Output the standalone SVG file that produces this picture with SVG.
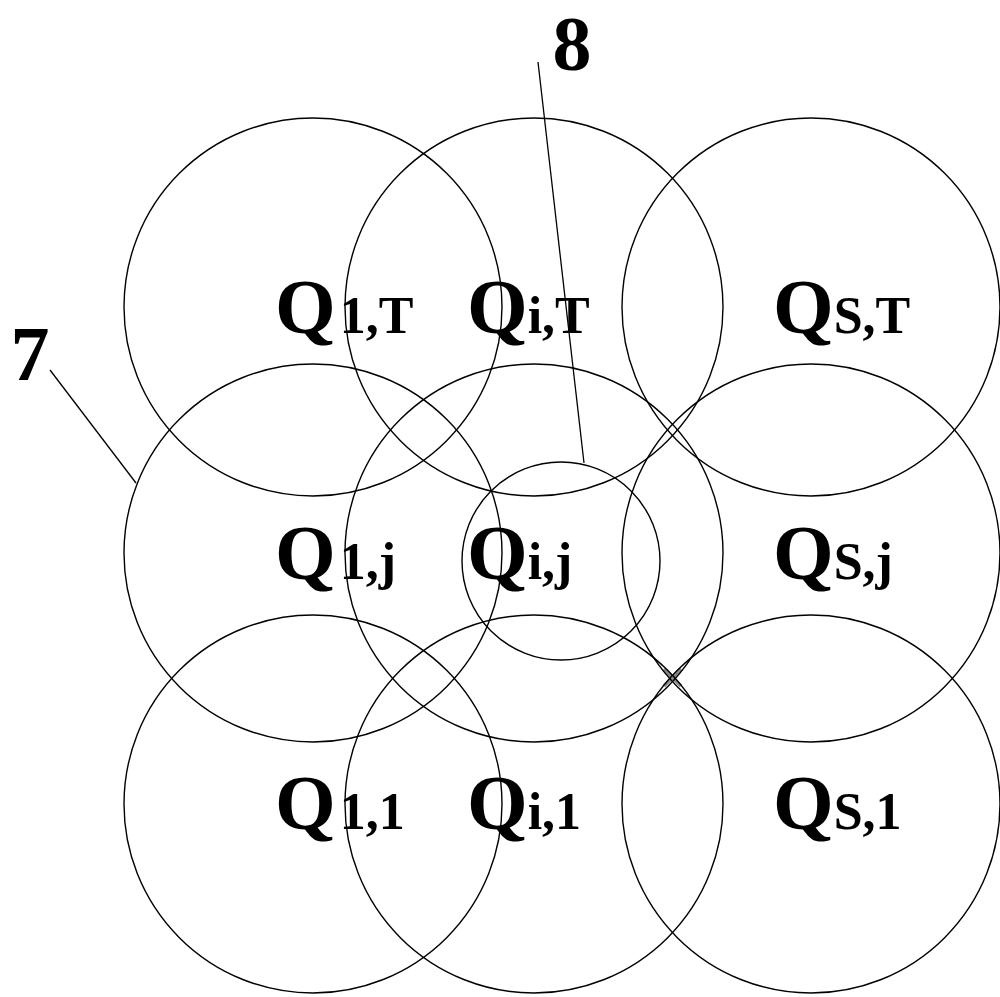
<svg xmlns="http://www.w3.org/2000/svg" width="1000" height="997" viewBox="0 0 1000 997">
<style>
.c{fill:none;stroke:#000;stroke-width:1.4}
.l{fill:none;stroke:#000;stroke-width:1.3}
.q{font-family:"Liberation Serif","Times New Roman",serif;font-weight:bold;fill:#000}
.big{font-size:78px}
.sub{font-size:52px}
.num{font-family:"Liberation Serif","Times New Roman",serif;font-weight:bold;font-size:78px;fill:#000}
</style>
<rect width="1000" height="997" fill="#fff"/>
<g id="mark">
<path d="M664 669 L681 686 M681 669 L664 686" stroke="#888" stroke-width="3.5" fill="none"/>
</g>
<g id="circles">
<g id="n-1T"><circle class="c" cx="313" cy="307" r="189"/></g>
<g id="n-iT"><circle class="c" cx="534" cy="307" r="189"/></g>
<g id="n-ST"><circle class="c" cx="811" cy="307" r="189"/></g>
<g id="n-1j"><circle class="c" cx="313" cy="553" r="189"/></g>
<g id="n-ij"><circle class="c" cx="534" cy="553" r="189"/></g>
<g id="n-Sj"><circle class="c" cx="811" cy="553" r="189"/></g>
<g id="n-11"><circle class="c" cx="313" cy="804" r="189"/></g>
<g id="n-i1"><circle class="c" cx="534" cy="804" r="189"/></g>
<g id="n-S1"><circle class="c" cx="811" cy="804" r="189"/></g>
<g id="n-small"><circle class="c" cx="561" cy="561" r="99"/></g>
</g>
<g id="connectors">
<line class="l" x1="538" y1="62" x2="584" y2="463"/>
<line class="l" x1="50" y1="370" x2="136" y2="483"/>
</g>
<g id="labels">
<text class="q" x="275" y="333"><tspan class="big">Q</tspan><tspan class="sub" dx="4">1,T</tspan></text>
<text class="q" x="467" y="333"><tspan class="big">Q</tspan><tspan class="sub">i,T</tspan></text>
<text class="q" x="773" y="333"><tspan class="big">Q</tspan><tspan class="sub">S,T</tspan></text>
<text class="q" x="275" y="579"><tspan class="big">Q</tspan><tspan class="sub" dx="4">1,j</tspan></text>
<text class="q" x="467" y="579"><tspan class="big">Q</tspan><tspan class="sub">i,j</tspan></text>
<text class="q" x="773" y="579"><tspan class="big">Q</tspan><tspan class="sub">S,j</tspan></text>
<text class="q" x="275" y="829"><tspan class="big">Q</tspan><tspan class="sub" dx="4">1,1</tspan></text>
<text class="q" x="467" y="829"><tspan class="big">Q</tspan><tspan class="sub">i,1</tspan></text>
<text class="q" x="773" y="829"><tspan class="big">Q</tspan><tspan class="sub">S,1</tspan></text>
<text class="num" x="572" y="70" text-anchor="middle">8</text>
<text class="num" x="30" y="380" text-anchor="middle">7</text>
</g>
</svg>
